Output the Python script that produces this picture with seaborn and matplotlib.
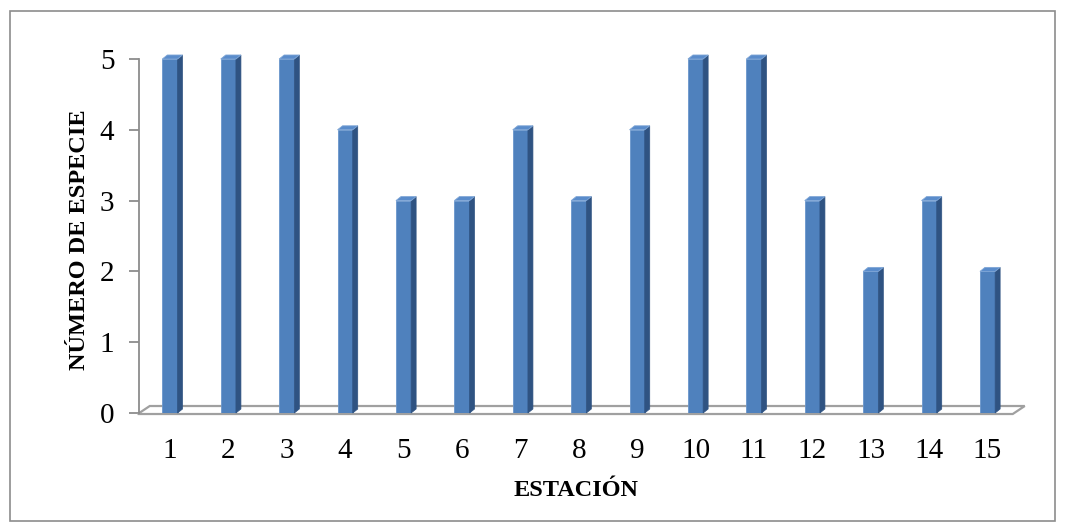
import numpy as np
import pandas as pd
import matplotlib
matplotlib.use("Agg")
import matplotlib.pyplot as plt
from matplotlib.patches import Polygon, Rectangle
import seaborn as sns

# Species count per sampling station
estaciones = [str(i) for i in range(1, 16)]
especies = [5, 5, 5, 4, 3, 3, 4, 3, 4, 5, 5, 3, 2, 3, 2]

df = pd.DataFrame({"ESTACIÓN": estaciones, "ESPECIES": especies})

sns.set_theme(style="white")
plt.rcParams["font.family"] = ["Liberation Serif", "DejaVu Serif"]

FRONT = "#4F81BD"
SIDE = "#2F5382"
TOP = "#5A8CCB"
GRID_GRAY = "#8C8C8C"

fig = plt.figure(figsize=(10.67, 5.31), dpi=100)
ax = fig.add_axes([0.1319, 0.2222, 0.821, 0.6667])
ax.set_xlim(-0.5, 14.5)
ax.set_ylim(0, 5)

sns.barplot(data=df, x="ESTACIÓN", y="ESPECIES", color=FRONT, saturation=1,
            width=0.26, ax=ax, zorder=3, edgecolor="#6A96CC", linewidth=0.6)
ax.set_xlim(-0.5, 14.5)
ax.set_ylim(0, 5)

to_disp = ax.transData.transform
to_data = ax.transData.inverted().transform
dx, dy = 5, 4  # depth of the 3-D extrusion, in pixels


def shifted(pt, ox, oy):
    p = to_disp(pt)
    return to_data((p[0] + ox, p[1] + oy))


# Floor of the 3-D plot
floor = [shifted((-0.5, 0), -3, -1), shifted((14.5, 0), -4, -1),
         shifted((14.5, 0), 8, 7), shifted((-0.5, 0), 9, 7)]
ax.add_patch(Polygon(floor, closed=True, facecolor="white", edgecolor="#A0A0A0",
                     linewidth=1.6, zorder=1, clip_on=False))

# Side and top faces of each bar
for bar in list(ax.patches):
    if not isinstance(bar, Rectangle) or bar.get_height() <= 0:
        continue
    x0 = bar.get_x()
    x1 = x0 + bar.get_width()
    h = bar.get_height()
    side = [(x1, 0), shifted((x1, 0), dx, dy), shifted((x1, h), dx, dy), (x1, h)]
    top = [(x0, h), (x1, h), shifted((x1, h), dx, dy), shifted((x0, h), dx, dy)]
    ax.add_patch(Polygon(side, closed=True, facecolor=SIDE, edgecolor=SIDE,
                         linewidth=0.5, zorder=3, clip_on=False))
    ax.add_patch(Polygon(top, closed=True, facecolor=TOP, edgecolor="#7FA6D6",
                         linewidth=0.6, zorder=4, clip_on=False))

# Axes styling
for s in ["top", "right", "bottom"]:
    ax.spines[s].set_visible(False)
ax.spines["left"].set_color(GRID_GRAY)
ax.spines["left"].set_linewidth(1.3)
ax.spines["left"].set_position(("outward", 1))
ax.set_yticks(range(0, 6))
ax.tick_params(axis="y", which="both", left=True, length=7, width=1.3,
               color=GRID_GRAY, pad=11, labelsize=21, labelcolor="black")
ax.tick_params(axis="x", bottom=False, pad=12, labelsize=21, labelcolor="black")
ax.set_xticks(range(len(estaciones)))
ax.set_xticklabels(estaciones)
ax.grid(False)
ax.set_facecolor("none")

ax.set_xlabel("ESTACIÓN", fontsize=17.5, fontweight="bold", color="black")
ax.set_ylabel("NÚMERO DE ESPECIE", fontsize=17.5, fontweight="bold", color="black")
ax.xaxis.set_label_coords(0.497, -0.19)
ax.yaxis.set_label_coords(-0.058, 0.489)

# Chart frame
fig.patches.append(Rectangle((10 / 1067, 10 / 531), 1045 / 1067, 510 / 531,
                             transform=fig.transFigure, fill=False,
                             edgecolor="#8C8C8C", linewidth=1.2))

fig.savefig("out.png", dpi=100)
